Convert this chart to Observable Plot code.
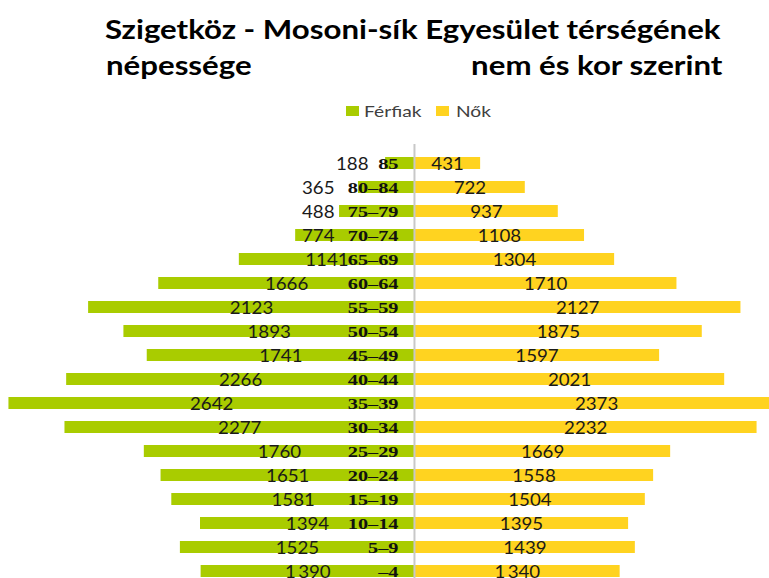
<!DOCTYPE html>
<html>
<head>
<meta charset="utf-8">
<script src="https://cdn.jsdelivr.net/npm/d3@7"></script>
<script src="https://cdn.jsdelivr.net/npm/@observablehq/plot@0.6"></script>
<style>
  html, body { margin: 0; padding: 0; background: #fff; width: 769px; height: 578px; overflow: hidden; }
  #wrap { position: relative; width: 769px; height: 578px; overflow: hidden; }
  .t { position: absolute; font-family: Lato, "Open Sans", sans-serif; font-weight: bold; font-size: 26px; line-height: 26px; color: #000; white-space: nowrap; transform: scaleX(1.2); }
  .leg { position: absolute; font-family: Lato, sans-serif; font-size: 16px; line-height: 16px; color: #404040; white-space: nowrap; transform: scaleX(1.2); transform-origin: left center; }
  .sw { position: absolute; width: 13px; height: 10px; }
  #chart { position: absolute; left: 0; top: 140px; }
</style>
</head>
<body>
<div id="wrap">
  <div class="t" style="left:105px; top:16px; transform-origin: left center;">Szigetköz - Mosoni-sík Egyesület térségének</div>
  <div class="t" style="left:106px; top:52px; transform-origin: left center;">népessége</div>
  <div class="t" style="right:47px; top:52px; transform-origin: right center;">nem és kor szerint</div>
  <div class="sw" style="left:346px; top:106px; background:#A9CC00;"></div>
  <div class="leg" style="left:364px; top:103px;">Férfiak</div>
  <div class="sw" style="left:436px; top:106px; background:#FFD320;"></div>
  <div class="leg" style="left:456px; top:103px;">Nők</div>
  <div id="chart"></div>
</div>
<script>
// Age groups, top (oldest) to bottom (youngest)
const ages = ["85", "80–84", "75–79", "70–74", "65–69", "60–64", "55–59", "50–54", "45–49",
              "40–44", "35–39", "30–34", "25–29", "20–24", "15–19", "10–14", "5–9", "–4"];
const male   = [188, 365, 488, 774, 1141, 1666, 2123, 1893, 1741, 2266, 2642, 2277, 1760, 1651, 1581, 1394, 1525, 1390];
const female = [431, 722, 937, 1108, 1304, 1710, 2127, 1875, 1597, 2021, 2373, 2232, 1669, 1558, 1504, 1395, 1439, 1340];

const green = "#A9CC00";
const yellow = "#FFD320";

const rows = ages.map((a, i) => ({age: a, male: male[i], female: female[i], last: i === ages.length - 1}));
const fmt = (v, spaced) => spaced ? d3.format(",")(v).replace(",", "\u2009") : String(v);

const small = rows.filter(d => d.male < 1000);
const big = rows.filter(d => d.male >= 1000);
const valFont = {fontFamily: "Lato, sans-serif", fontSize: 17, fill: "#1a1a1a", dy: 1};

const chart = Plot.plot({
  width: 769,
  height: 450,
  marginLeft: 0,
  marginRight: 0,
  marginTop: 4,
  marginBottom: 0,
  x: {domain: [-2697, 2313], axis: null},
  y: {domain: ages, axis: null, padding: 0.5},
  style: {background: "transparent", overflow: "visible"},
  marks: [
    Plot.barX(rows, {y: "age", x1: 0, x2: d => -d.male, fill: green}),
    Plot.barX(rows, {y: "age", x1: 0, x2: "female", fill: yellow}),
    Plot.ruleX([0], {stroke: "#C8C8C8", strokeWidth: 2}),
    Plot.text(big, {y: "age", x: d => -d.male / 2, text: d => fmt(d.male, d.last), ...valFont}),
    Plot.text(small.filter(d => d.age.length > 2), {y: "age", x: 0, text: d => fmt(d.male, d.last),
      textAnchor: "end", dx: -80, ...valFont}),
    Plot.text(small.filter(d => d.age.length <= 2), {y: "age", x: 0, text: d => fmt(d.male, d.last),
      textAnchor: "end", dx: -46, ...valFont}),
    Plot.text(rows, {y: "age", x: d => d.female / 2, text: d => fmt(d.female, d.last), ...valFont}),
    Plot.text(rows, {y: "age", x: 0, text: "age", textAnchor: "end", dx: -16,
      fontFamily: "'Liberation Serif', 'DejaVu Serif', serif", fontWeight: "bold", fontSize: 14, fill: "#111", dy: 1})
  ]
});

// Horizontal stretch of label glyphs (the reference text is wide-set)
const ageSet = new Set(ages);
chart.querySelectorAll("text").forEach(el => {
  const k = ageSet.has(el.textContent) ? 1.45 : 1.1;
  const t = el.getAttribute("transform") || "";
  el.setAttribute("transform", `${t} scale(${k},1)`);
});

document.getElementById("chart").appendChild(chart);
</script>
</body>
</html>
